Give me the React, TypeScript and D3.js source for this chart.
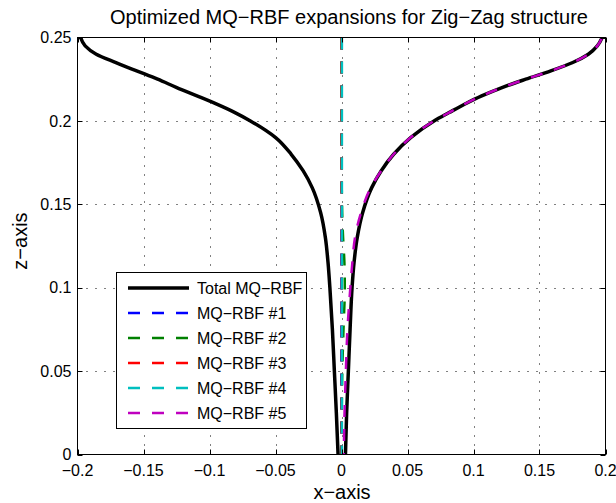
import React, { useEffect, useRef } from "react"
import * as d3 from "d3"

// z samples shared by every curve
const zGrid = [0, 0.025, 0.05, 0.075, 0.1, 0.115, 0.13, 0.145, 0.16, 0.17, 0.18, 0.19, 0.2, 0.205, 0.21, 0.215, 0.22, 0.225, 0.23, 0.235, 0.24, 0.245, 0.25]

// total expansion, two branches
const totalLeft = [-0.0026, -0.0039, -0.0054, -0.0069, -0.0088, -0.0102, -0.0122, -0.0158, -0.0222, -0.029, -0.0381, -0.0499, -0.069, -0.0807, -0.0945, -0.1095, -0.1248, -0.1393, -0.1552, -0.1709, -0.1858, -0.1942, -0.1977]
const totalRight = [0.003, 0.0039, 0.0052, 0.0065, 0.008, 0.0095, 0.0119, 0.016, 0.0229, 0.03, 0.0395, 0.0524, 0.0701, 0.0815, 0.0932, 0.1062, 0.1216, 0.1396, 0.1586, 0.1752, 0.187, 0.1938, 0.1975]

// single MQ-RBF terms
const rbf1 = [-0.0002, -0.0002, -0.0002, -0.0001, -0.0001, -0.0001, -0.0001, 0, 0, 0, 0, 0, 0, 0, 0, 0, 0, 0, 0, 0, 0, 0, 0]
const rbf2 = [0, 0.0002, 0.0006, 0.0015, 0.0025, 0.0022, 0.0012, 0.0005, 0.0002, 0.0001, 0, 0, 0, 0, 0, 0, 0, 0, 0, 0, 0, 0, 0]
const rbf3 = [0.0001, 0.0001, 0.0002, 0.0002, 0.0002, 0.0002, 0.0001, 0.0001, 0, 0, 0, 0, 0, 0, 0, 0, 0, 0, 0, 0, 0, 0, 0]
const rbf4 = [0.0003, 0.0003, 0.0003, 0.0003, 0.0003, 0.0003, 0.0003, 0.0003, 0.0003, 0.0003, 0.0003, 0.0003, 0.0003, 0.0003, 0.0003, 0.0003, 0.0003, 0.0003, 0.0003, 0.0003, 0.0003, 0.0003, 0.0003]
const rbf5 = [0.0017, 0.0023, 0.0033, 0.0045, 0.0067, 0.0082, 0.0102, 0.0148, 0.0222, 0.03, 0.0395, 0.0524, 0.0701, 0.0815, 0.0932, 0.1062, 0.1216, 0.1396, 0.1586, 0.1752, 0.187, 0.1938, 0.1975]

const rbfSeries = [rbf1, rbf2, rbf3, rbf4, rbf5]
const rbfNames = ["MQ\u2212RBF #1", "MQ\u2212RBF #2", "MQ\u2212RBF #3", "MQ\u2212RBF #4", "MQ\u2212RBF #5"]
const rbfColors = ["#0000ff", "#008000", "#ff0000", "#00bfbf", "#bf00bf"]

const xTicks = [-0.2, -0.15, -0.1, -0.05, 0, 0.05, 0.1, 0.15, 0.2]
const xTickLabels = ["\u22120.2", "\u22120.15", "\u22120.1", "\u22120.05", "0", "0.05", "0.1", "0.15", "0.2"]
const zTicks = [0, 0.05, 0.1, 0.15, 0.2, 0.25]
const zTickLabels = ["0", "0.05", "0.1", "0.15", "0.2", "0.25"]

const FONT = "'Liberation Sans', Arial, Helvetica, sans-serif"

export default function App() {
    const ref = useRef<SVGSVGElement>(null)

    useEffect(() => {
        document.body.style.margin = "0"
        const svg = d3.select(ref.current)
        svg.selectAll("*").remove()

        const box = { left: 77.5, right: 605.5, top: 37.5, bottom: 454.5 }
        const x = d3.scaleLinear().domain([-0.2, 0.2]).range([box.left, box.right])
        const y = d3.scaleLinear().domain([0, 0.25]).range([box.bottom, box.top])

        svg.append("rect").attr("width", 616).attr("height", 503).attr("fill", "#fff")

        svg.append("defs").append("clipPath").attr("id", "plotclip")
            .append("rect")
            .attr("x", box.left).attr("y", box.top)
            .attr("width", box.right - box.left).attr("height", box.bottom - box.top)

        // dotted grid
        const grid = svg.append("g").attr("stroke", "#000").attr("stroke-width", 1).attr("stroke-dasharray", "1,8")
        grid.selectAll("line.gx").data(xTicks.slice(1, -1)).enter().append("line")
            .attr("x1", d => Math.round(x(d)) + 0.5).attr("x2", d => Math.round(x(d)) + 0.5)
            .attr("y1", box.bottom).attr("y2", box.top)
        grid.selectAll("line.gz").data(zTicks.slice(1, -1)).enter().append("line")
            .attr("y1", d => Math.round(y(d)) + 0.5).attr("y2", d => Math.round(y(d)) + 0.5)
            .attr("x1", box.left).attr("x2", box.right)

        // top-down order so y is increasing for the monotone curve
        const line = (xs: number[]) => {
            const pts: [number, number][] = xs.map((v, i) => [x(v), y(zGrid[i])])
            pts.reverse()
            return d3.line().curve(d3.curveMonotoneY)(pts)
        }

        const plot = svg.append("g").attr("clip-path", "url(#plotclip)").attr("fill", "none")
        ;[totalLeft, totalRight].forEach(s => {
            plot.append("path").attr("d", line(s)).attr("stroke", "#000").attr("stroke-width", 3.5)
        })
        rbfSeries.forEach((s, i) => {
            plot.append("path").attr("d", line(s))
                .attr("stroke", rbfColors[i]).attr("stroke-width", 2.5)
                .attr("stroke-dasharray", "12,12")
        })

        // axes box and ticks
        const ax = svg.append("g").attr("stroke", "#000").attr("stroke-width", 1)
        ax.append("rect").attr("x", box.left).attr("y", box.top)
            .attr("width", box.right - box.left).attr("height", box.bottom - box.top)
            .attr("fill", "none")
        xTicks.forEach(t => {
            const px = Math.round(x(t)) + 0.5
            ax.append("line").attr("x1", px).attr("x2", px).attr("y1", box.bottom).attr("y2", box.bottom - 5)
            ax.append("line").attr("x1", px).attr("x2", px).attr("y1", box.top).attr("y2", box.top + 5)
        })
        zTicks.forEach(t => {
            const py = Math.round(y(t)) + 0.5
            ax.append("line").attr("y1", py).attr("y2", py).attr("x1", box.left).attr("x2", box.left + 5)
            ax.append("line").attr("y1", py).attr("y2", py).attr("x1", box.right).attr("x2", box.right - 5)
        })

        svg.append("g").selectAll("text").data(xTicks).enter().append("text")
            .attr("x", d => x(d)).attr("y", 476)
            .attr("text-anchor", "middle")
            .attr("font-family", FONT).attr("font-size", 16)
            .text((d, i) => xTickLabels[i])

        svg.append("g").selectAll("text").data(zTicks).enter().append("text")
            .attr("x", 71.5).attr("y", d => y(d) + 5.7)
            .attr("text-anchor", "end")
            .attr("font-family", FONT).attr("font-size", 16)
            .text((d, i) => zTickLabels[i])

        svg.append("text").attr("x", 349).attr("y", 24)
            .attr("text-anchor", "middle").attr("font-family", FONT).attr("font-size", 20)
            .text("Optimized MQ\u2212RBF expansions for Zig\u2212Zag structure")

        svg.append("text").attr("x", 342).attr("y", 499)
            .attr("text-anchor", "middle").attr("font-family", FONT).attr("font-size", 20)
            .text("x\u2212axis")

        svg.append("text").attr("transform", "translate(27,241) rotate(-90)")
            .attr("text-anchor", "middle").attr("font-family", FONT).attr("font-size", 20)
            .text("z\u2212axis")

        // legend
        const lg = svg.append("g")
        lg.append("rect").attr("x", 116.5).attr("y", 272.5).attr("width", 190).attr("height", 156)
            .attr("fill", "#fff").attr("stroke", "#000").attr("stroke-width", 1)
        const entries = [{ name: "Total MQ\u2212RBF", color: "#000", w: 3.5, dash: "none" }]
            .concat(rbfNames.map((n, i) => ({ name: n, color: rbfColors[i], w: 2.5, dash: "12,12" })))
        entries.forEach((e, i) => {
            const ey = 288 + i * 25
            lg.append("line").attr("x1", 128).attr("x2", 189).attr("y1", ey).attr("y2", ey)
                .attr("stroke", e.color).attr("stroke-width", e.w).attr("stroke-dasharray", e.dash)
            lg.append("text").attr("x", 197).attr("y", ey + 5.7)
                .attr("font-family", FONT).attr("font-size", 16)
                .text(e.name)
        })
    }, [])

    return <svg ref={ref} width={616} height={503} style={{ display: "block" }} />
}
